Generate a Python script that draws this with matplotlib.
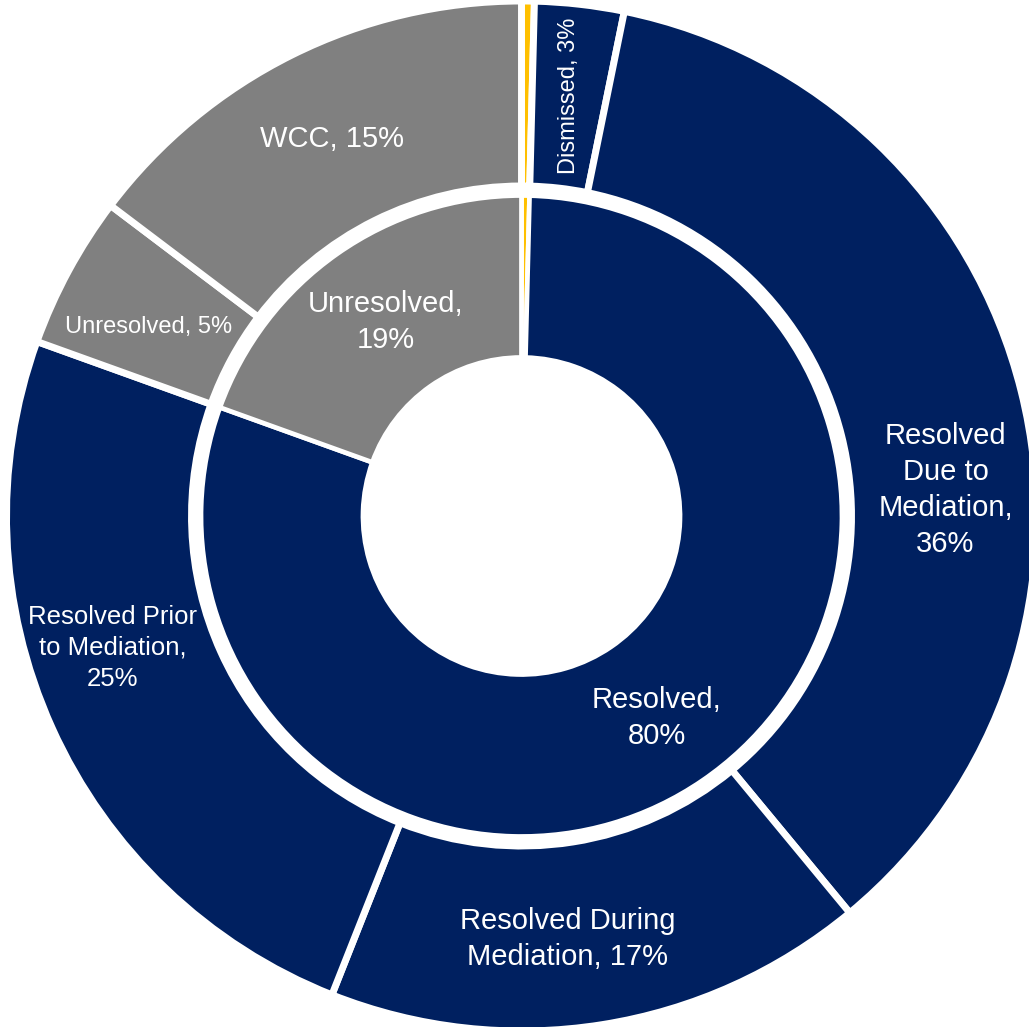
import matplotlib.pyplot as plt

# outer ring, clockwise from 12 o'clock
outer_labels = ["", "Dismissed, 3%", "Resolved\nDue to\nMediation,\n36%",
                "Resolved During\nMediation, 17%", "Resolved Prior\nto Mediation,\n25%",
                "Unresolved, 5%", "WCC, 15%"]
outer_values = [0.4, 2.8, 35.8, 17.0, 24.5, 4.8, 14.7]
outer_groups = ["other", "res", "res", "res", "res", "unres", "unres"]

# inner ring
inner_labels = ["", "Resolved,\n80%", "Unresolved,\n19%"]
inner_values = [0.4, 80.1, 19.5]
inner_groups = ["other", "res", "unres"]

colors = {"res": "#002060", "unres": "#808080", "other": "#FFC000"}

# label placement, pixel offsets from the pie centre (x right, y up), font size, rotation
outer_layout = [None, (47, 420, 17, 90), (424, 26, 21, 0), (46, -423, 21, 0),
                (-409, -132, 18.5, 0), (-373, 189, 17, 0), (-189, 377, 21, 0)]
inner_layout = [None, (135, -202, 21, 0), (-136, 194, 21, 0)]

W, H = 1029, 1027
cx, cy = 521.5, H - 516

fig = plt.figure(figsize=(W / 100, H / 100), dpi=100)
ax = fig.add_axes([0, 0, 1, 1])
ax.set_xlim(0, W)
ax.set_ylim(0, H)
ax.set_aspect("equal")
ax.axis("off")

ax.pie(outer_values, colors=[colors[g] for g in outer_groups], startangle=90,
       counterclock=False, center=(cx, cy), radius=515,
       wedgeprops=dict(width=185, edgecolor="white", linewidth=5.0))
ax.pie(inner_values, colors=[colors[g] for g in inner_groups], startangle=90,
       counterclock=False, center=(cx, cy), radius=320.5,
       wedgeprops=dict(width=162, edgecolor="white", linewidth=3.4))

font = "Liberation Sans"
for labels, layout in ((outer_labels, outer_layout), (inner_labels, inner_layout)):
    for text, lay in zip(labels, layout):
        if lay is None:
            continue
        dx, dy, size, rot = lay
        ax.text(cx + dx, cy + dy, text, ha="center", va="center", color="white",
                fontsize=size, family=font, rotation=rot, linespacing=1.35)

ax.set_xlim(0, W)
ax.set_ylim(0, H)
fig.savefig("out.png", dpi=100)
